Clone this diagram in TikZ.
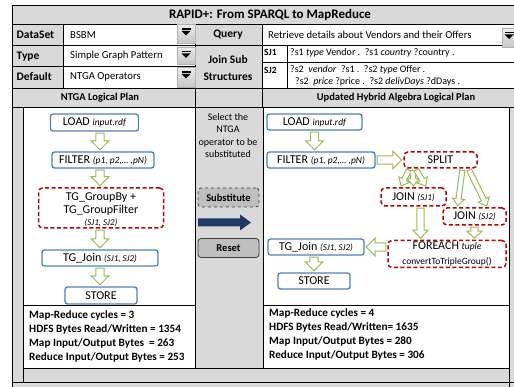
\documentclass[tikz,border=0pt]{standalone}
\usepackage{fontspec}
\setmainfont{Carlito}
\usetikzlibrary{calc}

\definecolor{cellgrey}{HTML}{D9D9D9}
\definecolor{boxblue}{HTML}{4F81BD}
\definecolor{boxred}{HTML}{C00000}
\definecolor{flowgreen}{HTML}{9BBB59}
\definecolor{darknavy}{HTML}{1F3864}
\definecolor{btngrey}{HTML}{BFBFBF}

\newcommand\fs[1]{\fontsize{#1}{#1}\selectfont}
\newcommand\argtext[1]{{\fs{9.5}\itshape #1}}
\newcommand\sjtext[1]{{\fs{9}\itshape #1}}

% hollow block arrow: shaft half width, head half width, head length, from, to
\newcommand\hollowarr[5]{%
  \path #4 coordinate (ha-a) #5 coordinate (ha-b);
  \path ($(ha-a)!1.5pt!(ha-b)$) coordinate (ha-s)
        ($(ha-b)!1.5pt!(ha-a)$) coordinate (ha-e);
  \path ($(ha-e)!#3!(ha-s)$) coordinate (ha-c);
  \draw[hollowarrow]
    ($(ha-s)!#1!90:(ha-e)$) -- ($(ha-c)!#1!90:(ha-e)$) --
    ($(ha-c)!#2!90:(ha-e)$) -- (ha-e) --
    ($(ha-c)!#2!-90:(ha-e)$) -- ($(ha-c)!#1!-90:(ha-e)$) --
    ($(ha-s)!#1!-90:(ha-e)$) -- cycle;}
\newcommand\bigarr[2]{\hollowarr{4.2pt}{8.8pt}{9pt}{#1}{#2}}
\newcommand\thinarr[2]{\hollowarr{2.6pt}{6pt}{7pt}{#1}{#2}}

\tikzset{
  opbox/.style={draw=boxblue, line width=1.3pt, rounded corners=2.5pt,
    fill=white, inner sep=0pt, font=\fs{12}},
  newop/.style={draw=boxred, line width=1.5pt, dash pattern=on 4pt off 2.5pt,
    rounded corners=4pt, fill=white, inner sep=0pt, font=\fs{12}},
  hollowarrow/.style={draw=flowgreen, line width=1pt, fill=white, line join=miter},
  grid/.style={draw=black, line width=0.8pt},
  lab/.style={font=\bfseries\fs{11.5}, inner sep=0pt},
  val/.style={font=\fs{10.7}, inner sep=0pt, anchor=west},
  sj/.style={font=\fs{10}, inner sep=0pt, anchor=west},
  stat/.style={font=\bfseries\fs{11.2}, inner sep=0pt, anchor=west},
  btn/.style={fill=btngrey, rounded corners=3pt, line width=0.8pt, draw=black!75,
    font=\bfseries\fs{10.5}, inner sep=0pt, minimum width=61pt, minimum height=19pt},
  dropbtn/.style={top color=gray!15, bottom color=gray!45, draw=gray!60, line width=0.4pt}
}

\newcommand\dropdown[4]{% x1 y1 x2 y2
  \path[dropbtn] (#1,#2) rectangle (#3,#4);
  \fill[black] ({(#1+#3)/2-4.5},{#2+4}) rectangle ({(#1+#3)/2+4.5},{#2+5.2});
  \fill[black] ({(#1+#3)/2-4.5},{#2+6.5}) -- ({(#1+#3)/2+4.5},{#2+6.5}) -- ({(#1+#3)/2},{#2+11}) -- cycle;}

\begin{document}
\begin{tikzpicture}[x=1pt, y=-1pt]
\useasboundingbox (0,0) rectangle (514,387);
\fill[white] (0,0) rectangle (514,387);

% ---------- cell backgrounds ----------
\fill[cellgrey] (12,5) rectangle (520,24);
\fill[cellgrey] (12,24) rectangle (63,88);
\fill[cellgrey] (195,24) rectangle (262,88);
\fill[cellgrey] (12,88) rectangle (520,107);
\fill[cellgrey] (12,107) rectangle (520,390);
\fill[white] (23,107) rectangle (195,368);
\fill[white] (263,107) rectangle (509,368);

% ---------- grid lines ----------
\draw[grid] (12,390) -- (12,5) -- (520,5);
\draw[grid] (12,24) -- (520,24);
\draw[grid] (12,45) -- (520,45);
\draw[grid] (12,66) -- (195,66);
\draw[grid] (262,62) -- (520,62);
\draw[grid] (12,88) -- (520,88);
\draw[grid] (12,107) -- (520,107);
\draw[grid] (63,24) -- (63,88);
\draw[grid] (195,24) -- (195,368);
\draw[grid] (262,24) -- (262,107);
\draw[grid] (287,45) -- (287,88);
\draw[grid] (23,107) -- (23,382);
\draw[grid] (263,107) -- (263,368);
\draw[grid] (509,107) -- (509,390);
\draw[grid] (23,368) -- (509,368);
\draw[grid] (23,305) -- (195,305);
\draw[grid] (263,305) -- (509,305);
\draw[grid] (12,382) -- (520,382);

% ---------- drop-down buttons ----------
\dropdown{177}{24.5}{195}{43.5}
\dropdown{177}{47}{195}{64}
\dropdown{177}{67.5}{195}{87.5}
\dropdown{502}{28}{516}{47}

% ---------- header texts ----------
\node[lab, font=\bfseries\fs{13}] (title) at (270,14.5) {RAPID+: From SPARQL to MapReduce};
\node[lab, anchor=west] (lds) at (16.5,35) {DataSet};
\node[lab, anchor=west] (ltype) at (16.5,57) {Type};
\node[lab, anchor=west] (ldef) at (16.5,77) {Default};
\node[val] (vds) at (70,35) {BSBM};
\node[val] (vtype) at (70,55.5) {Simple Graph Pattern};
\node[val] (vdef) at (70,77) {NTGA Operators};
\node[lab] (lquery) at (228,35) {Query};
\node[lab] (ljoin) at (228,60) {Join Sub};
\node[lab] (lstruct) at (228,77) {Structures};
\node[val] (vquery) at (268,34.5) {Retrieve details about Vendors and their Offers};
\node[lab, font=\bfseries\fs{9.5}, anchor=west] (lsj1) at (264,52.5) {SJ1};
\node[lab, font=\bfseries\fs{9.5}, anchor=west] (lsj2) at (264,70) {SJ2};
\node[sj] (vsj1) at (290,52.5) {?s1 \textit{type} Vendor .\ \ ?s1 \textit{country} ?country .};
\node[sj] (vsj2a) at (290,70) {?s2\ \ \textit{vendor}\ \ ?s1 .\ \ ?s2 \textit{type} Offer .};
\node[sj] (vsj2b) at (295,82) {?s2\ \ \textit{price} ?price .\ \ ?s2 \textit{delivDays} ?dDays .};
\node[lab, font=\bfseries\fs{10.5}] (hleft) at (100,97.5) {NTGA Logical Plan};
\node[lab, font=\bfseries\fs{10.5}] (hright) at (396,97.5) {Updated Hybrid Algebra Logical Plan};

% ---------- NTGA logical plan ----------
\node[opbox, minimum width=88pt, minimum height=17pt] (load) at (94.5,122.5) {LOAD \argtext{input.rdf}};
\node[opbox, minimum width=102pt, minimum height=16pt] (filter) at (103,160) {FILTER \argtext{(p1, p2,… ,pN)}};
\node[newop, minimum width=125pt, minimum height=40pt] (tgg) at (101,208) {};
\node[align=center, inner sep=0pt, font=\fs{12}] (tggtext) at (101,209.5)
  {TG\_GroupBy +\\[0.5pt]TG\_GroupFilter\\[0pt]\sjtext{(SJ1, SJ2)}};
\node[opbox, minimum width=116pt, minimum height=16pt] (tgjoin) at (100,258) {TG\_Join \sjtext{(SJ1, SJ2)}};
\node[opbox, minimum width=72pt, minimum height=17pt] (store) at (101,295.5) {STORE};

\bigarr{(load.south -| tgjoin.north)}{(filter.north -| tgjoin.north)}
\bigarr{(filter.south -| tgjoin.north)}{(tgg.north -| tgjoin.north)}
\bigarr{(tgg.south -| tgjoin.north)}{(tgjoin.north)}
\bigarr{(tgjoin.south)}{(store.north -| tgjoin.south)}

% ---------- middle controls ----------
\node[font=\fs{10}, align=center, inner sep=0pt] (hint) at (228,135.5)
  {Select the\\[2.3pt]NTGA\\[2.3pt]operator to be\\[2.3pt]substituted};
\node[btn, dashed] (subst) at (228.5,197.5) {Substitute};
\node[btn] (reset) at (228.5,248) {Reset};
\fill[darknavy] (198,218.5) -- (240,218.5) -- (240,214.5) -- (251,222.5) -- (240,230.5)
  -- (240,226.5) -- (198,226.5) -- cycle;

% ---------- hybrid algebra plan ----------
\node[opbox, minimum width=95pt, minimum height=16pt] (load2) at (314.5,122) {LOAD \argtext{input.rdf}};
\node[opbox, minimum width=108pt, minimum height=16pt] (filter2) at (321,160) {FILTER \argtext{(p1, p2,… ,pN)}};
\node[newop, minimum width=73pt, minimum height=16pt] (split) at (440.5,160) {SPLIT};
\node[newop, minimum width=65pt, minimum height=18pt] (join1) at (413.5,197) {JOIN \sjtext{(SJ1)}};
\node[newop, minimum width=63pt, minimum height=17pt] (join2) at (474.5,216.5) {JOIN \sjtext{(SJ2)}};
\node[newop, minimum width=118pt, minimum height=27pt, align=center] (foreach) at (447,254)
  {FOREACH {\fs{9.5}\itshape tuple}\\[3.5pt]{\fs{9.5}convertToTripleGroup()}};
\node[opbox, minimum width=96pt, minimum height=16pt] (tgjoin2) at (316,247) {TG\_Join \sjtext{(SJ1, SJ2)}};
\node[opbox, minimum width=72pt, minimum height=16pt] (store2) at (314,281) {STORE};

\coordinate (j1out) at ([xshift=7pt]join1.south);

\bigarr{(load2.south)}{(load2.south |- filter2.north)}
\bigarr{(filter2.east)}{(split.west)}
\thinarr{([xshift=-31pt]split.south)}{([xshift=-13pt]join1.north)}
\thinarr{([xshift=-28pt]split.south)}{(join1.north)}
\thinarr{([xshift=-25pt]split.south)}{([xshift=13pt]join1.north)}
\thinarr{([xshift=22pt]split.south)}{([xshift=-17pt]join2.north)}
\thinarr{([xshift=28pt]split.south)}{([xshift=13pt]join2.north)}
\hollowarr{3.6pt}{7.5pt}{8pt}{(j1out)}{(j1out |- foreach.north)}
\hollowarr{3.6pt}{7.5pt}{7pt}{(join2.south)}{(join2.south |- foreach.north)}
\bigarr{(tgjoin2.east -| foreach.west)}{(tgjoin2.east)}
\bigarr{(store2.north |- tgjoin2.south)}{(store2.north)}

% ---------- statistics ----------
\node[stat] (s1a) at (29,315) {Map-Reduce cycles = 3};
\node[stat] (s1b) at (29,329) {HDFS Bytes Read/Written = 1354};
\node[stat] (s1c) at (29,343) {Map Input/Output Bytes\ \ = 263};
\node[stat] (s1d) at (29,357) {Reduce Input/Output Bytes = 253};
\node[stat] (s2a) at (269,313) {Map-Reduce cycles = 4};
\node[stat] (s2b) at (269,327) {HDFS Bytes Read/Written= 1635};
\node[stat] (s2c) at (269,341) {Map Input/Output Bytes = 280};
\node[stat] (s2d) at (269,355) {Reduce Input/Output Bytes = 306};
\end{tikzpicture}
\end{document}
